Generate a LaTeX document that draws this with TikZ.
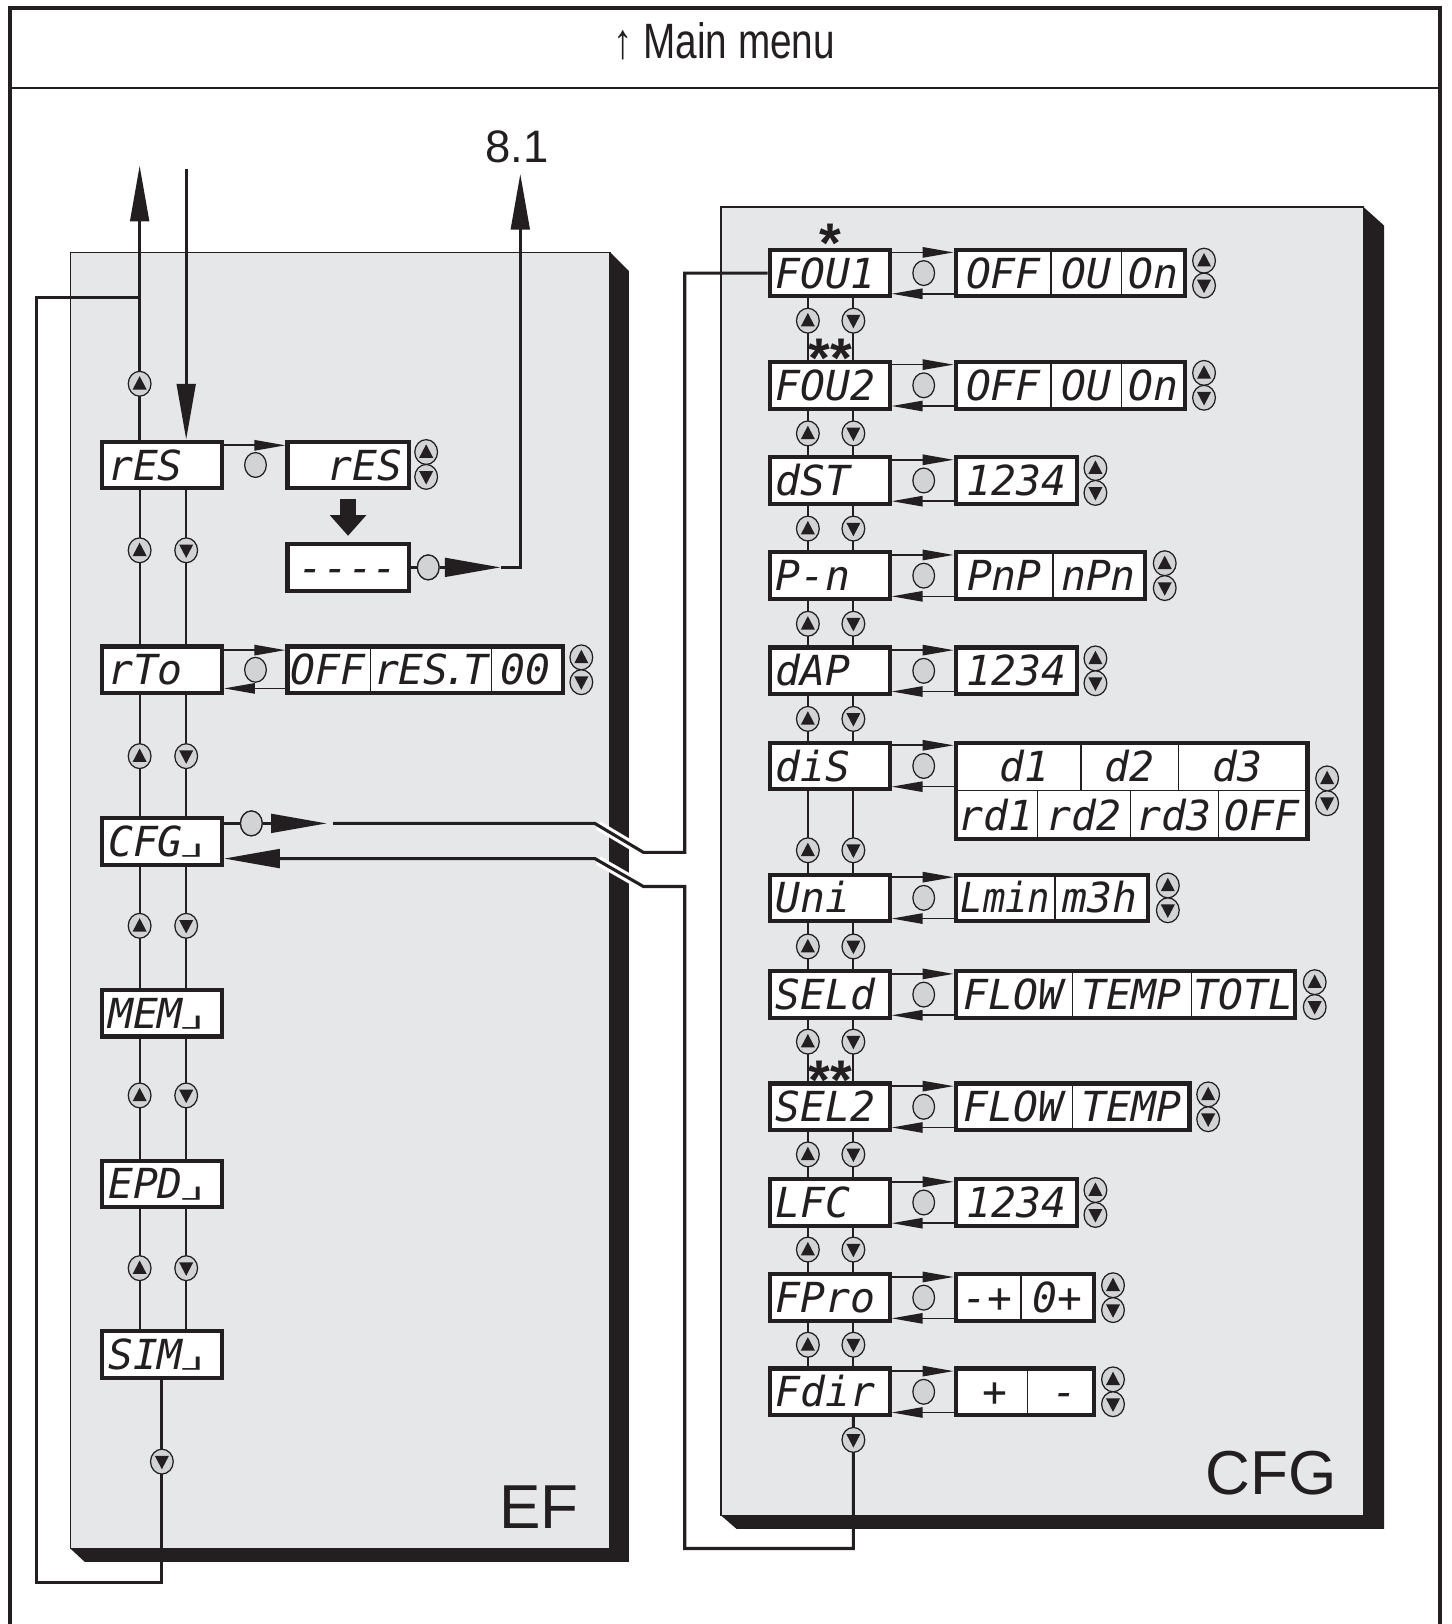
\documentclass[tikz,border=0pt]{standalone}
\usepackage{fontspec}
\usepackage{graphicx}
\setmainfont{Liberation Sans}
\newfontfamily\segfont{DejaVu Sans Mono}
\newfontfamily\condfont[FakeStretch=0.78]{Liberation Sans}
\usetikzlibrary{arrows.meta,shapes.geometric,fit}
\definecolor{dark}{HTML}{231F20}
\definecolor{panelgray}{HTML}{E6E7E8}
\definecolor{btngray}{HTML}{D1D3D4}
\newcommand\hk{\raisebox{-0.17em}{\scalebox{1.2}[0.5]{┘}}}
\newcommand\starglyph[1]{\raisebox{-0.42em}[0.31em][0pt]{#1}}
\newcommand\fwdback[2]{%
  \coordinate (#1F) at ([yshift=10pt]#1.east);
  \coordinate (#1B) at ([yshift=-10pt]#1.east);
  \draw[fwd] (#1F) -- (#1F -| #2.west);
  \draw[fwd] (#1B -| #2.west) -- (#1B);
}
\newcommand\sidebtns[3]{%
  \node[upbtn] (#1U) at (#2,#3-12) {};
  \node[dnbtn] (#1D) at (#2,#3+12) {};
}
\tikzset{
  seg/.style={font=\segfont\itshape\fontsize{20pt}{20pt}\selectfont, text height=14.6pt, text depth=0pt, inner sep=0pt, text=dark},
  menu/.style={seg, draw=dark, line width=2pt, fill=white, minimum width=58pt, minimum height=22.5pt, text width=52pt, align=left, inner xsep=3pt},
  valbox/.style={draw=dark, line width=2pt, fill=white, inner sep=0pt},
  divider/.style={draw=dark, line width=0.6pt},
  btn/.style={ellipse, draw=dark, line width=0.6pt, fill=btngray, minimum width=11pt, minimum height=12pt, inner sep=0pt},
  upbtn/.style={btn, path picture={\fill[dark] ([yshift=3.7pt]path picture bounding box.center) -- ++(-3.4pt,-6.5pt) -- ++(6.8pt,0pt) -- cycle;}},
  dnbtn/.style={btn, path picture={\fill[dark] ([yshift=-3.7pt]path picture bounding box.center) -- ++(-3.4pt,6.5pt) -- ++(6.8pt,0pt) -- cycle;}},
  enterbtn/.style={btn, minimum width=10.5pt, minimum height=12pt},
  colline/.style={draw=dark, line width=1pt},
  thickline/.style={draw=dark, line width=1.5pt},
  fwd/.style={draw=dark, line width=0.8pt, -{Triangle[length=15pt,width=5pt]}},
  bigtip/.style={-{Triangle[length=27pt,width=9pt]}},
  casing/.style={draw=white, line width=4.5pt},
  star/.style={font=\fontsize{27pt}{27pt}\selectfont\bfseries, text=dark, inner sep=0pt},
}
\begin{document}
\begin{tikzpicture}[x=0.5pt,y=-0.5pt]
\useasboundingbox (0,0) rectangle (1403,1570);
% outer frame
\draw[dark, line width=2pt] (10,1590) -- (10,8) -- (1392,8) -- (1392,1590);
\draw[dark, line width=1.2pt] (10,85) -- (1392,85);
\node[font=\condfont\fontsize{24pt}{24pt}\selectfont, text=dark, anchor=base] (title) at (700,57) {↑ Main menu};

% EF panel
\fill[dark] (590,244) -- (608,262) -- (608,1510) -- (82,1510) -- (68,1497) -- cycle;
\draw[dark, line width=0.8pt, fill=panelgray] (68,244) rectangle (590,1497);
% CFG panel
\fill[dark] (1318,200) -- (1338,218) -- (1338,1478) -- (712,1478) -- (697,1465) -- cycle;
\draw[dark, line width=0.8pt, fill=panelgray] (697,200) rectangle (1318,1465);

\node[font=\fontsize{22pt}{22pt}\selectfont, text=dark, anchor=base] (l81) at (500,157) {8.1};
\node[font=\fontsize{30pt}{30pt}\selectfont, text=dark, anchor=base] (eflab) at (521,1478) {EF};
\node[font=\fontsize{30pt}{30pt}\selectfont, text=dark, anchor=base] (cfglab) at (1229,1445) {CFG};

% ---------------- EF menu boxes
\node[menu] (res) at (156.5,449.5) {rES};
\node[menu] (rto) at (156.5,647.5) {rTo};
\node[menu] (cfg) at (156.5,813.5) {CFG\hk};
\node[menu] (mem) at (156.5,979.5) {MEM\hk};
\node[menu] (epd) at (156.5,1144.5) {EPD\hk};
\node[menu] (sim) at (156.5,1309.5) {SIM\hk};

% rES value + dashes
\node[valbox, fit={(278,427) (395,472)}] (resv) {};
\node[seg, anchor=east] (resvt) at (389,449.5) {rES};
\node[valbox, fit={(278,526) (395,571)}] (dash) {};
\node[seg] (dasht) at (336.5,548.5) {-{}-{}-{}-};
\draw[dark, line width=7.5pt, -{Triangle[length=10pt,width=17pt]}, shorten <=4pt, shorten >=3pt] (resv.south) -- (dash.north);

% rTo value
\node[valbox, fit={(278,625) (544,670)}] (rtov) {};
\draw[divider] (358,625) -- (358,670);
\draw[divider] (475,625) -- (475,670);
\node[seg] (rto1) at (317,647.5) {OFF};
\node[seg] (rto2) at (417,647.5) {rES\kern-0.12em.\kern-0.12em T};
\node[seg] (rto3) at (508,647.5) {00};

% EF columns
\foreach \a/\b in {res/rto, rto/cfg, cfg/mem, mem/epd, epd/sim}{
  \draw[colline] ([xshift=-10.75pt]\a.south) -- ([xshift=-10.75pt]\b.north);
  \draw[colline] ([xshift=11.75pt]\a.south) -- ([xshift=11.75pt]\b.north);
}
\coordinate (topup) at (135,160);
\coordinate (topdn) at (180,163);
\draw[thickline, bigtip] ([xshift=-10.75pt]res.north) -- (topup);
\draw[thickline, bigtip] (topdn) -- ([xshift=11.75pt]res.north);
\coordinate (lpA) at (156.5,1530);
\coordinate (lpB) at (35,1530);
\coordinate (lpC) at (35,288);
\coordinate (lpD) at (135,288);
\draw[thickline] (sim.south) -- (lpA) -- (lpB) -- (lpC) -- (lpD);

% rES / rTo arrows
\draw[fwd] ([yshift=9.5pt]res.east) -- ([yshift=9.5pt]resv.west);
\draw[fwd] ([yshift=9.5pt]rto.east) -- ([yshift=9.5pt]rtov.west);
\draw[fwd] ([yshift=-9pt]rtov.west) -- ([yshift=-9pt]rto.east);

% dashes -> 8.1
\node[enterbtn] (dashe) at (414,548.5) {};
\coordinate (tipA) at (484,548.5);
\coordinate (c81) at (503,548.5);
\coordinate (up81) at (503,168);
\draw[thickline] (dash.east) -- (dashe);
\draw[thickline, bigtip] (dashe) -- (tipA);
\draw[thickline, bigtip] (tipA) -- (c81) -- (up81);
\node[enterbtn] (dashe2) at (414,548.5) {};

% ---------------- CFG menu boxes
\node[menu] (fou1) at (802,264) {FOU1};
\node[menu] (fou2) at (802,372.5) {FOU2};
\node[menu] (dst) at (802,464.5) {dST};
\node[menu] (pn) at (802,556.5) {P-n};
\node[menu] (dap) at (802,648.5) {dAP};
\node[menu] (dis) at (802,740.5) {diS};
\node[menu] (uni) at (802,868) {Uni};
\node[menu] (seld) at (802,961.5) {SELd};
\node[menu] (sel2) at (802,1070) {SEL2};
\node[menu] (lfc) at (802,1162.5) {LFC};
\node[menu] (fpro) at (802,1254.5) {FPro};
\node[menu] (fdir) at (802,1345.5) {Fdir};

% value boxes
\node[valbox, fit={(924,241.5) (1146,286.5)}] (fou1v) {};
\draw[divider] (1016,241.5) -- (1016,286.5);
\draw[divider] (1084,241.5) -- (1084,286.5);
\node[seg] (fou1a) at (970,264) {OFF};
\node[seg] (fou1b) at (1050,264) {OU};
\node[seg] (fou1c) at (1115,264) {On};

\node[valbox, fit={(924,350) (1146,395)}] (fou2v) {};
\draw[divider] (1016,350) -- (1016,395);
\draw[divider] (1084,350) -- (1084,395);
\node[seg] (fou2a) at (970,372.5) {OFF};
\node[seg] (fou2b) at (1050,372.5) {OU};
\node[seg] (fou2c) at (1115,372.5) {On};

\node[valbox, fit={(924,442) (1041,487)}] (dstv) {};
\node[seg] (dsta) at (982.5,464.5) {1234};

\node[valbox, fit={(924,534) (1107,579)}] (pnv) {};
\draw[divider] (1018,534) -- (1018,579);
\node[seg] (pna) at (971,556.5) {PnP};
\node[seg] (pnb) at (1062,556.5) {nPn};

\node[valbox, fit={(924,626) (1041,671)}] (dapv) {};
\node[seg] (dapa) at (982.5,648.5) {1234};

\node[valbox, fit={(924,718) (1264,811)}] (disv) {};
\draw[divider] (924,764.5) -- (1264,764.5);
\draw[divider] (1045,718) -- (1045,764.5);
\draw[divider] (1139,718) -- (1139,764.5);
\draw[divider] (1003,764.5) -- (1003,811);
\draw[divider] (1093,764.5) -- (1093,811);
\draw[divider] (1178,764.5) -- (1178,811);
\node[seg] (disa) at (990,741) {d1};
\node[seg] (disb) at (1092,741) {d2};
\node[seg] (disc) at (1196,741) {d3};
\node[seg] (disd) at (963,788) {rd1};
\node[seg] (dise) at (1048,788) {rd2};
\node[seg] (disf) at (1135,788) {rd3};
\node[seg] (disg) at (1220,788) {OFF};

\node[valbox, fit={(924,845.5) (1110,890.5)}] (univ) {};
\draw[divider] (1020,845.5) -- (1020,890.5);
\node[seg] (unia) at (972,868) {\scalebox{0.9}[1]{Lmin}};
\node[seg] (unib) at (1063,868) {m3h};

\node[valbox, fit={(924,939) (1252,984)}] (seldv) {};
\draw[divider] (1037,939) -- (1037,984);
\draw[divider] (1152,939) -- (1152,984);
\node[seg] (selda) at (980,961.5) {FLOW};
\node[seg] (seldb) at (1094,961.5) {TEMP};
\node[seg] (seldc) at (1202,961.5) {TOTL};

\node[valbox, fit={(924,1047.5) (1150,1092.5)}] (sel2v) {};
\draw[divider] (1037,1047.5) -- (1037,1092.5);
\node[seg] (sel2a) at (980,1070) {FLOW};
\node[seg] (sel2b) at (1094,1070) {TEMP};

\node[valbox, fit={(924,1140) (1041,1185)}] (lfcv) {};
\node[seg] (lfca) at (982.5,1162.5) {1234};

\node[valbox, fit={(924,1232) (1058,1277)}] (fprov) {};
\draw[divider] (987,1232) -- (987,1277);
\node[seg] (fproa) at (955,1254.5) {-+};
\node[seg] (fprob) at (1022,1254.5) {0+};

\node[valbox, fit={(924,1323) (1058,1368)}] (fdirv) {};
\draw[divider] (993,1323) -- (993,1368);
\node[seg] (fdira) at (962,1345.5) {+};
\node[seg] (fdirb) at (1030,1345.5) {-};

% CFG forward/back arrows
\fwdback{fou1}{fou1v}
\fwdback{fou2}{fou2v}
\fwdback{dst}{dstv}
\fwdback{pn}{pnv}
\fwdback{dap}{dapv}
\fwdback{dis}{disv}
\fwdback{uni}{univ}
\fwdback{seld}{seldv}
\fwdback{sel2}{sel2v}
\fwdback{lfc}{lfcv}
\fwdback{fpro}{fprov}
\fwdback{fdir}{fdirv}

% CFG columns
\foreach \a/\b in {fou1/fou2, fou2/dst, dst/pn, pn/dap, dap/dis, dis/uni, uni/seld, seld/sel2, sel2/lfc, lfc/fpro, fpro/fdir}{
  \draw[colline] ([xshift=-10.5pt]\a.south) -- ([xshift=-10.5pt]\b.north);
  \draw[colline] ([xshift=11.5pt]\a.south) -- ([xshift=11.5pt]\b.north);
}

% EF CFG <-> CFG panel connection
\node[enterbtn] (cfge) at (243,796) {};
\coordinate (cfgtip) at (316,796);
\coordinate (cfgl) at (322,796);
\coordinate (p1) at (575,796);
\coordinate (p2) at (622,824);
\coordinate (p3) at (662,824);
\coordinate (p4) at (662,264);
\draw[thickline] ([yshift=8.75pt]cfg.east) -- (cfge);
\draw[thickline, bigtip] (cfge) -- (cfgtip);
\draw[casing, shorten <=2pt] (p1) -- (p2);
\draw[thickline] (cfgl) -- (p1) -- (p2) -- (p3) -- (p4) -- (fou1.west);
\coordinate (q2) at (825,1497);
\coordinate (q3) at (662,1497);
\coordinate (q4) at (662,857);
\coordinate (q5) at (622,857);
\coordinate (q6) at (575,830);
\draw[casing, shorten >=2pt] (q5) -- (q6);
\draw[thickline, bigtip] ([xshift=11.5pt]fdir.south) -- (q2) -- (q3) -- (q4) -- (q5) -- (q6) -- ([yshift=-8.25pt]cfg.east);

% ---------------- buttons EF
\node[upbtn] (efu0) at (135,371) {};
\foreach \y [count=\i] in {532,731,895,1059,1226}{
  \node[upbtn] (efu\i) at (135,\y) {};
  \node[dnbtn] (efd\i) at (180,\y) {};
}
\node[dnbtn] (efd9) at (156.5,1413) {};
\node[enterbtn] (rese) at (247,449.5) {};
\node[enterbtn] (rtoe) at (247,647.5) {};
\node[enterbtn] (cfge2) at (243,796) {};
\sidebtns{resv}{412}{449}
\sidebtns{rtov}{562}{647.5}

% ---------------- buttons CFG
\foreach \y [count=\i] in {310,419,511,603,695,822,915,1007,1116,1208,1300}{
  \node[upbtn] (cfu\i) at (781,\y) {};
  \node[dnbtn] (cfd\i) at (825,\y) {};
}
\node[dnbtn] (cfd99) at (825,1392) {};
\foreach \n/\y in {fou1/264, fou2/372.5, dst/464.5, pn/556.5, dap/648.5, dis/740.5, uni/868, seld/961.5, sel2/1070, lfc/1162.5, fpro/1254.5, fdir/1345.5}{
  \node[enterbtn] (\n E) at (893,\y) {};
}
\sidebtns{fou1v}{1164}{264}
\sidebtns{fou2v}{1164}{372.5}
\sidebtns{dstv}{1059}{464.5}
\sidebtns{pnv}{1126}{556.5}
\sidebtns{dapv}{1059}{648.5}
\sidebtns{disv}{1283}{764.5}
\sidebtns{univ}{1129}{868}
\sidebtns{seldv}{1271}{961.5}
\sidebtns{sel2v}{1168}{1070}
\sidebtns{lfcv}{1059}{1162.5}
\sidebtns{fprov}{1076}{1254.5}
\sidebtns{fdirv}{1076}{1345.5}

% stars
\node[star] (st1) at (803,223) {\starglyph{*}};
\node[star] (st2) at (803,334) {\starglyph{**}};
\node[star] (st3) at (803,1032) {\starglyph{**}};
\end{tikzpicture}
\end{document}
